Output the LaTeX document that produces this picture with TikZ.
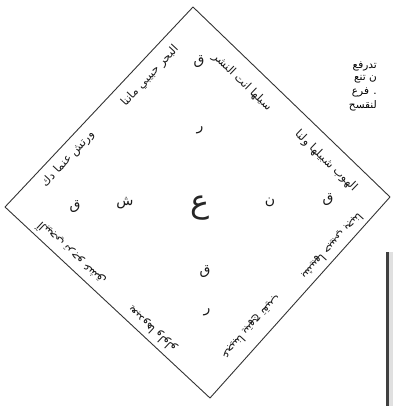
\documentclass[tikz,border=0pt]{standalone}
\usepackage{fontspec}
\newfontfamily\arabicfont[Script=Arabic]{DejaVu Sans}
\TeXXeTstate=1
\newcommand{\artxt}[1]{\beginR #1\endR}

\begin{document}
\begin{tikzpicture}[x=1pt,y=-1pt,
  edgetext/.style={font=\arabicfont\fontsize{11.5}{11.5}\selectfont,inner sep=0pt,text=black!90},
  letter/.style={font=\arabicfont\fontsize{14}{14}\selectfont,inner sep=0pt,text=black!90},
  bigletter/.style={font=\arabicfont\fontsize{32}{32}\selectfont,inner sep=0pt,text=black!85},
  sidetext/.style={font=\arabicfont\fontsize{10.5}{12}\selectfont,inner sep=0pt,anchor=east}]
\useasboundingbox (0,0) rectangle (393,406);
% the square, standing on a corner
\coordinate (top) at (193,7);
\coordinate (rgt) at (390,197);
\coordinate (bot) at (210,398);
\coordinate (lft) at (5,207);
\draw[black!80,line width=.9pt,line join=round] (top) -- (rgt) -- (bot) -- (lft) -- cycle;
% writing along the four sides, heads turned outward
\node[edgetext,rotate=47] (ulA) at (150,76) {\artxt{البحر حبيبي ماننا}};
\node[edgetext,rotate=47] (ulB) at (68,159) {\artxt{ورتش عنما دك}};
\node[edgetext,rotate=-44] (urA) at (242,82) {\artxt{سيلها انت النشر}};
\node[edgetext,rotate=-44] (urB) at (326,161) {\artxt{الهوب شبيلها ولنا}};
\node[edgetext,rotate=-132] (lrA) at (332,246) {\artxt{بشيبها حبيبي بجبنا}};
\node[edgetext,rotate=-132] (lrB) at (251,327) {\artxt{عجيبنا يبتهج تقيب}};
\node[edgetext,rotate=137] (llA) at (71,254) {\artxt{آلبيجي ترجو عشق}};
\node[edgetext,rotate=137] (llB) at (152,329) {\artxt{يعبدوها ولولو}};
% letters inside
\node[letter] (qtop) at (199,62) {\artxt{ق}};
\node[letter] (rtop) at (200,130) {\artxt{ر}};
\node[bigletter] (ain) at (200,208) {\artxt{ع}};
\node[letter] (shin) at (125,203) {\artxt{ش}};
\node[letter] (qlft) at (75,207) {\artxt{ق}};
\node[letter] (nun) at (270,202) {\artxt{ن}};
\node[letter] (qrgt) at (328,200) {\artxt{ق}};
\node[letter] (qbot) at (205,272) {\artxt{ق}};
\node[letter] (rbot) at (207,312) {\artxt{ر}};
% bits of the next page
\node[sidetext] (sA) at (377,66) {\artxt{تدرفع}};
\node[sidetext] (sB) at (377,79) {\artxt{ن تنع}};
\node[sidetext] (sC) at (377,92) {\artxt{. فرع}};
\node[sidetext] (sD) at (377,106) {\artxt{لنقسح}};
\fill[black!12] (389,252) rectangle (393,406);
\draw[black!75,line width=3pt] (387,252) -- (387,406);
\end{tikzpicture}
\end{document}
